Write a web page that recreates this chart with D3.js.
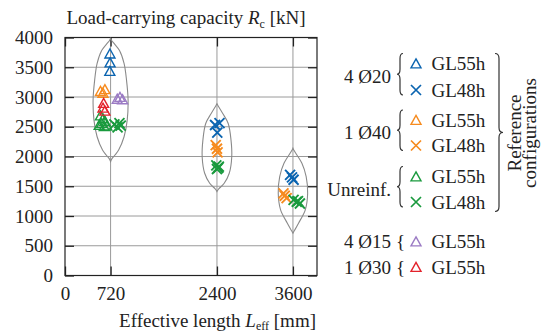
<!DOCTYPE html>
<html>
<head>
<meta charset="utf-8">
<script src="https://cdn.jsdelivr.net/npm/d3@7"></script>
<style>
  body { margin: 0; background: #fff; }
  svg text { font-family: "Liberation Serif", "Times New Roman", serif; font-size: 19px; fill: #222; }
</style>
</head>
<body>
<svg id="chart" width="544" height="332"></svg>
<script>
// Nominal effective lengths of the three test groups [mm]
const lengthGroups = [720, 2400, 3600];
const xTickValues = [0, 720, 2400, 3600];
const yTickValues = [0, 500, 1000, 1500, 2000, 2500, 3000, 3500, 4000];

// Specimens: [effective length L_eff (mm), load-carrying capacity R_c (kN)]
const bars4x20_GL55h = [[710, 3730], [712, 3580], [708, 3438]];
const bars4x20_GL48h = [[2370, 2530], [2440, 2560], [2405, 2400], [3555, 1690], [3610, 1610], [3585, 1650]];
const bar1x40_GL55h = [[560, 3100], [600, 3070], [630, 3130]];
const bar1x40_GL48h = [[2380, 2190], [2400, 2130], [2410, 2070], [3450, 1380], [3500, 1300], [3470, 1340]];
const unreinf_GL55h = [[560, 2690], [600, 2640], [630, 2600], [580, 2560], [540, 2530], [620, 2510], [660, 2520]];
const unreinf_GL48h = [[780, 2540], [830, 2490], [860, 2560], [880, 2520],
                       [2390, 1850], [2420, 1810], [2400, 1790], [2430, 1830],
                       [3610, 1270], [3660, 1240], [3710, 1210], [3680, 1250]];
const bars4x15_GL55h = [[825, 2970], [868, 3000], [910, 2960]];
const bar1x30_GL55h = [[610, 2900], [600, 2820], [630, 2770]];

// Relative density of R_c per length group: [R_c (kN), density / peak density]
const density720 = [[1915, 0], [1960, 0.07], [2025, 0.25], [2109, 0.46], [2332, 0.77], [2612, 0.95], [2948, 1],
                    [3284, 0.91], [3564, 0.77], [3780, 0.51], [3900, 0.2], [3950, 0.06], [3990, 0]];
const density2400 = [[1410, 0], [1450, 0.1], [1550, 0.49], [1718, 0.83], [1997, 1], [2276, 0.95], [2555, 0.76],
                     [2722, 0.39], [2845, 0.09], [2885, 0]];
const density3600 = [[712, 0], [755, 0.1], [879, 0.38], [1103, 0.84], [1383, 1], [1661, 0.9], [1886, 0.61],
                     [2095, 0.09], [2140, 0]];

// ---- styles / layout ----
const colors = { blue: "#0a64b0", orange: "#f68b1f", green: "#1a9a3e", purple: "#9b7bc4", red: "#e3232c" };
const violinHalfWidth = [17.5, 14.8, 14.7];
const plot = { left: 65, right: 317, top: 37.5, bottom: 275.5 };

const series = [
  { data: bars4x20_GL55h, marker: "tri", color: colors.blue,   text: "GL55h" },
  { data: bars4x20_GL48h, marker: "x",   color: colors.blue,   text: "GL48h" },
  { data: bar1x40_GL55h,  marker: "tri", color: colors.orange, text: "GL55h" },
  { data: bar1x40_GL48h,  marker: "x",   color: colors.orange, text: "GL48h" },
  { data: unreinf_GL55h,  marker: "tri", color: colors.green,  text: "GL55h" },
  { data: unreinf_GL48h,  marker: "x",   color: colors.green,  text: "GL48h" },
  { data: bars4x15_GL55h, marker: "tri", color: colors.purple, text: "GL55h" },
  { data: bar1x30_GL55h,  marker: "tri", color: colors.red,    text: "GL55h" }
];
const violins = [density720, density2400, density3600];
const legendGroups = [
  { label: "4 Ø20", rows: [0, 1] },
  { label: "1 Ø40", rows: [2, 3] },
  { label: "Unreinf.", rows: [4, 5] },
  { label: "4 Ø15", rows: [6] },
  { label: "1 Ø30", rows: [7] }
];
const rowBaseline = [70, 96.5, 126.5, 152, 183, 208.5, 248, 273.5];

const svg = d3.select("#chart");

const x = d3.scaleLinear().domain([0, 3980]).range([plot.left, plot.right]);
const y = d3.scaleLinear().domain([0, 4000]).range([plot.bottom, plot.top]);

svg.append("clipPath").attr("id", "plotClip")
  .append("rect").attr("x", plot.left).attr("y", plot.top)
  .attr("width", plot.right - plot.left).attr("height", plot.bottom - plot.top);

// grid
const grid = svg.append("g").attr("stroke", "#9a9a9a").attr("stroke-width", 1);
grid.selectAll("line.h").data(yTickValues.slice(1, -1)).join("line")
  .attr("x1", plot.left).attr("x2", plot.right)
  .attr("y1", d => y(d)).attr("y2", d => y(d));
grid.selectAll("line.v").data(lengthGroups).join("line")
  .attr("x1", d => x(d)).attr("x2", d => x(d))
  .attr("y1", plot.top).attr("y2", plot.bottom);

// axes with inward ticks on all four sides
function styleAxis(g) {
  g.select(".domain").remove();
  g.selectAll(".tick line").attr("stroke", "#222").attr("stroke-width", 1.3);
  g.selectAll(".tick text").attr("fill", "#222").style("font-size", "19px")
    .style("font-family", '"Liberation Serif", "Times New Roman", serif');
}
svg.append("g").attr("transform", `translate(${plot.left},0)`)
  .call(d3.axisLeft(y).tickValues(yTickValues).tickSize(-9).tickPadding(12).tickFormat(d3.format("d")))
  .call(styleAxis);
svg.append("g").attr("transform", `translate(${plot.right},0)`)
  .call(d3.axisRight(y).tickValues(yTickValues).tickSize(-9).tickFormat(""))
  .call(styleAxis);
svg.append("g").attr("transform", `translate(0,${plot.bottom})`)
  .call(d3.axisBottom(x).tickValues(xTickValues).tickSize(-9).tickPadding(11).tickFormat(d3.format("d")))
  .call(styleAxis);
svg.append("g").attr("transform", `translate(0,${plot.top})`)
  .call(d3.axisTop(x).tickValues(xTickValues).tickSize(-9).tickFormat(""))
  .call(styleAxis);

svg.append("rect").attr("x", plot.left).attr("y", plot.top)
  .attr("width", plot.right - plot.left).attr("height", plot.bottom - plot.top)
  .attr("fill", "none").attr("stroke", "#222").attr("stroke-width", 1.2);

// violins around the grid line of each length group
const violinLayer = svg.append("g").attr("clip-path", "url(#plotClip)");
lengthGroups.forEach((g, i) => {
  const hw = d => violinHalfWidth[i] * d[1];
  violinLayer.append("path")
    .datum(violins[i])
    .attr("d", d3.area().curve(d3.curveCatmullRom.alpha(0.5))
      .y(d => y(d[0])).x0(d => x(g) - hw(d)).x1(d => x(g) + hw(d)))
    .attr("fill", "none").attr("stroke", "#8a8a8a").attr("stroke-width", 1.1);
});

// markers
const markerPath = { tri: "M0,-4.6L5,4.4L-5,4.4Z", x: "M-5,-5L5,5M5,-5L-5,5" };
const markers = svg.append("g");
series.forEach(s => {
  markers.selectAll(null).data(s.data).join("path")
    .attr("transform", p => `translate(${x(p[0])},${y(p[1])})`)
    .attr("d", markerPath[s.marker])
    .attr("fill", "none").attr("stroke", s.color)
    .attr("stroke-width", s.marker === "x" ? 1.9 : 1.4)
    .attr("stroke-linejoin", "miter");
});

// title and axis label
const title = svg.append("text").attr("x", 66.5).attr("y", 23.5);
title.append("tspan").text("Load-carrying capacity ");
title.append("tspan").attr("font-style", "italic").text("R");
title.append("tspan").attr("dy", 4).style("font-size", "12px").text("c");
title.append("tspan").attr("dy", -4).text(" [kN]");

const xLabel = svg.append("text").attr("x", 316).attr("y", 326.5).attr("text-anchor", "end");
xLabel.append("tspan").text("Effective length ");
xLabel.append("tspan").attr("font-style", "italic").text("L");
xLabel.append("tspan").attr("dy", 3.5).style("font-size", "12px").text("eff");
xLabel.append("tspan").attr("dy", -3.5).text(" [mm]");

// legend
function bracePath(xEnd, xTip, y0, y1) {
  const xm = (xEnd + xTip) / 2, mid = (y0 + y1) / 2, r = 5;
  return `M${xEnd},${y0}Q${xm},${y0} ${xm},${y0 + r}L${xm},${mid - r}Q${xm},${mid} ${xTip},${mid}` +
         `Q${xm},${mid} ${xm},${mid + r}L${xm},${y1 - r}Q${xm},${y1} ${xEnd},${y1}`;
}
const legend = svg.append("g");
legendGroups.forEach(gr => {
  const bases = gr.rows.map(r => rowBaseline[r]);
  const labelBase = d3.mean(bases);
  legend.append("text").attr("x", 391).attr("y", labelBase).attr("text-anchor", "end").text(gr.label);
  if (gr.rows.length > 1) {
    legend.append("path")
      .attr("d", bracePath(403, 397, bases[0] - 16.5, bases[bases.length - 1] - 1.5))
      .attr("fill", "none").attr("stroke", "#333").attr("stroke-width", 1.2);
  } else {
    legend.append("text").attr("x", 396).attr("y", labelBase).text("{");
  }
  gr.rows.forEach(r => {
    const s = series[r];
    legend.append("path")
      .attr("transform", `translate(416,${rowBaseline[r] - 6.5})`)
      .attr("d", markerPath[s.marker])
      .attr("fill", "none").attr("stroke", s.color)
      .attr("stroke-width", s.marker === "x" ? 1.7 : 1.4);
    legend.append("text").attr("x", 431.5).attr("y", rowBaseline[r]).text(s.text);
  });
});
legend.append("path")
  .attr("d", bracePath(495, 503, 53.5, 211.5))
  .attr("fill", "none").attr("stroke", "#333").attr("stroke-width", 1.2);
legend.append("text").attr("transform", "translate(520.8,133) rotate(-90)")
  .attr("text-anchor", "middle").text("Reference");
legend.append("text").attr("transform", "translate(535.5,133) rotate(-90)")
  .attr("text-anchor", "middle").text("configurations");
</script>
</body>
</html>
